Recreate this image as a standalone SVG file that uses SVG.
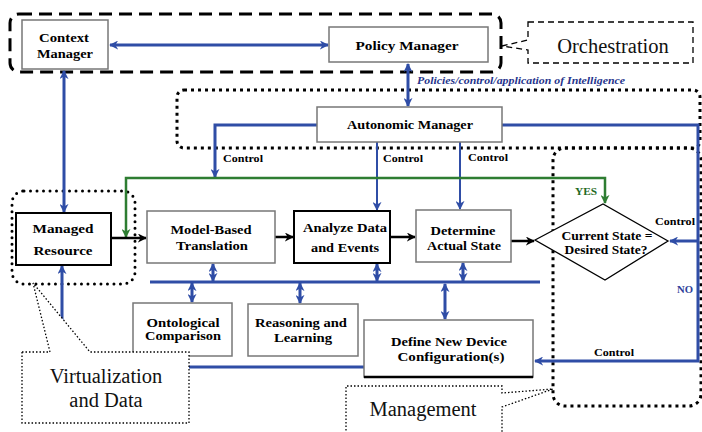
<svg xmlns="http://www.w3.org/2000/svg" width="702" height="432" viewBox="0 0 702 432">
<defs>
<marker id="ab" viewBox="0 0 10 10" refX="9" refY="5" markerWidth="9" markerHeight="9" markerUnits="userSpaceOnUse" orient="auto-start-reverse"><path d="M0,0 L10,5 L0,10 L3,5 z" fill="#2F4DA6"/></marker>
<marker id="ak" viewBox="0 0 10 10" refX="9" refY="5" markerWidth="9" markerHeight="9" markerUnits="userSpaceOnUse" orient="auto-start-reverse"><path d="M0,0 L10,5 L0,10 L3,5 z" fill="#000"/></marker>
<marker id="ag" viewBox="0 0 10 10" refX="9" refY="5" markerWidth="9" markerHeight="9" markerUnits="userSpaceOnUse" orient="auto-start-reverse"><path d="M0,0 L10,5 L0,10 L3,5 z" fill="#2E7D32"/></marker>
</defs>
<style>
.box{fill:#fff;stroke:#777;stroke-width:1.5}
.dk{stroke:#000;stroke-width:2}
.lb{font-family:"Liberation Serif",serif;font-weight:bold;font-size:12.5px;fill:#000;text-anchor:middle}
.ct{font-family:"Liberation Serif",serif;font-weight:bold;font-size:10px;fill:#000;text-anchor:middle}
.big{font-family:"Liberation Serif",serif;font-size:20.5px;fill:#111;text-anchor:middle}
.bl{fill:none;stroke:#2F4DA6;stroke-width:3}
.bt{fill:none;stroke:#2F4DA6;stroke-width:2}
.kl{fill:none;stroke:#000;stroke-width:2.5}
.dot{fill:none;stroke:#000;stroke-width:3;stroke-dasharray:3 4}
.rdot{fill:none;stroke:#000;stroke-width:3;stroke-linecap:round;stroke-dasharray:0 6.5}
.call{fill:#fff;stroke:#000;stroke-width:1.3;stroke-dasharray:1.5 2}
</style>
<rect width="702" height="432" fill="#fff"/>

<!-- group frames -->
<rect x="10" y="14" width="491" height="58" rx="9" fill="none" stroke="#000" stroke-width="3" stroke-dasharray="13 7"/>
<rect x="177" y="90" width="523" height="58" rx="7" class="dot"/>
<rect x="553" y="148" width="148" height="258" rx="12" class="dot"/>
<rect x="12" y="191" width="123" height="93" rx="12" class="rdot"/>

<g id="connectors">
<line x1="110" y1="45" x2="328" y2="45" class="bl" marker-start="url(#ab)" marker-end="url(#ab)"/>
<line x1="64" y1="71" x2="64" y2="212" class="bl" marker-start="url(#ab)" marker-end="url(#ab)"/>
<line x1="408" y1="64" x2="408" y2="106" class="bl" stroke-width="2.5" marker-start="url(#ab)" marker-end="url(#ab)"/>
<path d="M317,125 H215 V177" class="bl" marker-end="url(#ab)"/>
<line x1="377" y1="142" x2="377" y2="210" class="bt" marker-end="url(#ab)"/>
<line x1="460" y1="142" x2="460" y2="209" class="bt" marker-end="url(#ab)"/>
<path d="M502,125 H698 V361 H535" class="bl" marker-end="url(#ab)"/>
<line x1="698" y1="241" x2="670" y2="241" class="bl" marker-end="url(#ab)"/>
<path d="M126,237 V178 H605 V203" fill="none" stroke="#2E7D32" stroke-width="2.5" marker-start="url(#ag)" marker-end="url(#ag)"/>
<line x1="111" y1="238" x2="146" y2="238" class="kl" marker-end="url(#ak)"/>
<line x1="275" y1="237" x2="293" y2="237" class="kl" marker-end="url(#ak)"/>
<line x1="390" y1="237" x2="415" y2="237" class="kl" marker-end="url(#ak)"/>
<line x1="511" y1="241" x2="534" y2="241" class="kl" marker-end="url(#ak)"/>
<line x1="150" y1="282" x2="540" y2="282" class="bl" stroke-width="3.5"/>
<line x1="213" y1="281" x2="213" y2="264" class="bl" marker-start="url(#ab)" marker-end="url(#ab)"/>
<line x1="377" y1="281" x2="377" y2="264" class="bl" marker-start="url(#ab)" marker-end="url(#ab)"/>
<line x1="463" y1="281" x2="463" y2="263" class="bl" marker-start="url(#ab)" marker-end="url(#ab)"/>
<line x1="192" y1="283" x2="192" y2="302" class="bl" marker-start="url(#ab)" marker-end="url(#ab)"/>
<line x1="300" y1="283" x2="300" y2="303" class="bl" marker-start="url(#ab)" marker-end="url(#ab)"/>
<line x1="445" y1="284" x2="445" y2="319" class="bl" marker-start="url(#ab)" marker-end="url(#ab)"/>
<path d="M62,266 V367 H364" class="bl" marker-start="url(#ab)"/>
<text x="243" y="162" class="ct" textLength="40" lengthAdjust="spacingAndGlyphs">Control</text>
<text x="403" y="162" class="ct" textLength="40" lengthAdjust="spacingAndGlyphs">Control</text>
<text x="488" y="161" class="ct" textLength="40" lengthAdjust="spacingAndGlyphs">Control</text>
<text x="675" y="225" class="ct" textLength="40" lengthAdjust="spacingAndGlyphs">Control</text>
<text x="614" y="356" class="ct" textLength="40" lengthAdjust="spacingAndGlyphs">Control</text>
<text x="586" y="195" class="ct" fill="#2E7D32" style="fill:#1F6B25" textLength="22" lengthAdjust="spacingAndGlyphs">YES</text>
<text x="685" y="293" class="ct" style="fill:#2F3F9A" textLength="16" lengthAdjust="spacingAndGlyphs">NO</text>
<text x="521" y="84" class="ct" style="fill:#26348C;font-style:italic" textLength="208" lengthAdjust="spacingAndGlyphs">Policies/control/application of Intelligence</text>
</g>

<g id="context-manager">
<rect x="22" y="20" width="86" height="49" class="box"/>
<text x="64" y="42" class="lb" textLength="50" lengthAdjust="spacingAndGlyphs">Context</text>
<text x="65" y="58" class="lb" textLength="56" lengthAdjust="spacingAndGlyphs">Manager</text>
</g>
<g id="policy-manager">
<rect x="329" y="27" width="159" height="35" class="box" stroke="#444"/>
<text x="407" y="50" class="lb" textLength="103" lengthAdjust="spacingAndGlyphs">Policy Manager</text>
</g>
<g id="autonomic-manager">
<rect x="317" y="107" width="185" height="35" class="box"/>
<text x="410" y="129" class="lb" textLength="126" lengthAdjust="spacingAndGlyphs">Autonomic Manager</text>
</g>
<g id="managed-resource">
<rect x="16" y="213" width="95" height="52" class="box dk"/>
<text x="63" y="233" class="lb" textLength="61" lengthAdjust="spacingAndGlyphs">Managed</text>
<text x="63" y="255" class="lb" textLength="59" lengthAdjust="spacingAndGlyphs">Resource</text>
</g>
<g id="model-based-translation">
<rect x="147" y="211" width="128" height="52" class="box"/>
<text x="211" y="234" class="lb" textLength="81" lengthAdjust="spacingAndGlyphs">Model-Based</text>
<text x="212" y="250" class="lb" textLength="72" lengthAdjust="spacingAndGlyphs">Translation</text>
</g>
<g id="analyze-data">
<rect x="294" y="211" width="96" height="52" class="box dk"/>
<text x="345" y="232" class="lb" textLength="84" lengthAdjust="spacingAndGlyphs">Analyze Data</text>
<text x="345" y="252" class="lb" textLength="68" lengthAdjust="spacingAndGlyphs">and Events</text>
</g>
<g id="determine-state">
<rect x="416" y="210" width="95" height="52" class="box" stroke="#222"/>
<text x="463" y="235" class="lb" textLength="65" lengthAdjust="spacingAndGlyphs">Determine</text>
<text x="464" y="250" class="lb" textLength="74" lengthAdjust="spacingAndGlyphs">Actual State</text>
</g>
<g id="decision">
<polygon points="535,240 603,204 668,241 605,280" fill="#fff" stroke="#000" stroke-width="1.3"/>
<text x="607" y="240" class="lb" textLength="91" lengthAdjust="spacingAndGlyphs">Current State =</text>
<text x="606" y="254" class="lb" textLength="83" lengthAdjust="spacingAndGlyphs">Desired State?</text>
</g>
<g id="ontological-comparison">
<rect x="133" y="303" width="99" height="53" class="box" stroke="#444"/>
<text x="183" y="327" class="lb" textLength="73" lengthAdjust="spacingAndGlyphs">Ontological</text>
<text x="183" y="340" class="lb" textLength="76" lengthAdjust="spacingAndGlyphs">Comparison</text>
</g>
<g id="reasoning-learning">
<rect x="248" y="304" width="110" height="52" class="box" stroke="#444"/>
<text x="301" y="327" class="lb" textLength="92" lengthAdjust="spacingAndGlyphs">Reasoning and</text>
<text x="303" y="342" class="lb" textLength="58" lengthAdjust="spacingAndGlyphs">Learning</text>
</g>
<g id="define-configuration">
<rect x="364" y="320" width="169" height="57" class="box"/>
<line x1="364" y1="377" x2="533" y2="377" stroke="#000" stroke-width="2.5"/>
<text x="449" y="346" class="lb" textLength="116" lengthAdjust="spacingAndGlyphs">Define New Device</text>
<text x="451" y="361" class="lb" textLength="107" lengthAdjust="spacingAndGlyphs">Configuration(s)</text>
</g>

<g id="orchestration">
<path d="M528,22 H693 V63 H528 V50 L502,46 L528,40 Z" fill="#fff" stroke="#000" stroke-width="1.3" stroke-dasharray="6 4"/>
<text x="613" y="53" class="big">Orchestration</text>
</g>
<g id="virtualization">
<path d="M22,352 H50 L33,283 L90,352 H189 V423 H22 Z" class="call"/>
<text x="106" y="383" class="big">Virtualization</text>
<text x="106" y="407" class="big">and Data</text>
</g>
<g id="management">
<path d="M346,434 V386 H502 V393 L553,389 L502,407 V434" class="call"/>
<text x="423" y="416" class="big">Management</text>
</g>
</svg>
